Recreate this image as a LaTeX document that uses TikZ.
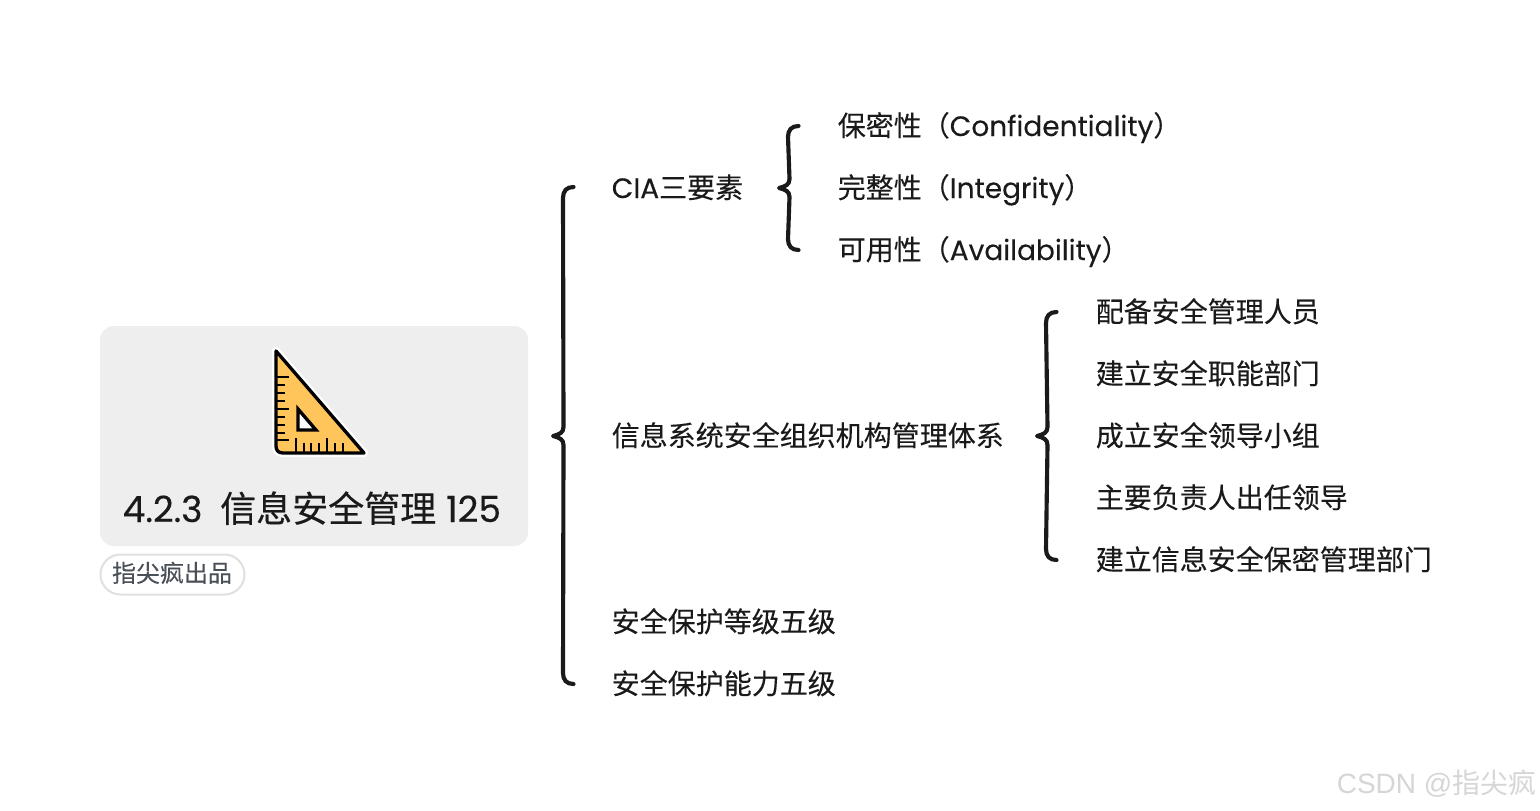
\documentclass[tikz,border=0pt]{standalone}
\usepackage{fontspec}
\setmainfont[FakeBold=0.12]{Poppins}
\newfontfamily\cjk[FakeBold=0.12]{Noto Sans CJK SC}
\newfontfamily\titlelat[FakeBold=0.35]{Poppins}
\newfontfamily\titlecjk[FakeBold=0.35]{Noto Sans CJK SC}
\newfontfamily\wmfont{Liberation Sans}
\newfontfamily\wmcjk{Noto Sans CJK SC}
\newcommand{\zh}[1]{{\cjk #1}}
\definecolor{ink}{HTML}{1A1A1A}
\definecolor{cardfill}{HTML}{EEEEEE}
\definecolor{tagline}{HTML}{E0E0E0}
\definecolor{tagtext}{HTML}{4A5058}
\definecolor{rulerfill}{HTML}{FFC45A}
\definecolor{wm}{HTML}{D6D6D6}
\tikzset{
  label/.style={anchor=base west,inner sep=0pt,text=ink,font=\fontsize{21}{25}\selectfont},
  bracket/.style={draw=ink,line width=3.1pt,line cap=round,line join=round},
  tick/.style={draw=black,line width=2pt},
}
\newcommand{\bracketpath}[3]{%
  \draw[bracket] (#1) .. controls +(-7,0) and +(0,-7) .. ([shift={(-10.5,11)}]#1)
    -- ([shift={(10.5,-9)}]#2) .. controls +(0,6) and +(6,-1.5) .. (#2)
    .. controls +(6,1.5) and +(0,-6) .. ([shift={(10.5,9)}]#2)
    -- ([shift={(-10.5,-11)}]#3) .. controls +(0,7) and +(-7,0) .. (#3);}
\begin{document}
\begin{tikzpicture}[x=0.75pt,y=-0.75pt]
\useasboundingbox (0,0) rectangle (1540,810);
\fill[white] (0,0) rectangle (1540,810);
% central card
\node[draw=none,fill=cardfill,rounded corners=10.5pt,minimum width=321pt,minimum height=165pt,inner sep=0pt] (card) at (314,436) {};
\node[anchor=base west,inner sep=0pt,text=ink,font=\fontsize{27}{32}\selectfont] (title) at (122.5,522) {\titlelat 4.2.3\hspace{13.3pt}{\titlecjk 信息安全管理}\hspace{7.5pt}125};
\node[draw=tagline,line width=1.5pt,fill=white,rounded corners=15pt,minimum width=108pt,minimum height=30pt,inner sep=0pt] (tag) at (172.5,574.5) {};
\node[anchor=base,inner sep=0pt,text=tagtext,font=\fontsize{18}{22}\selectfont] (tagt) at (172,582) {\zh{指尖疯出品}};
% ruler icon
\draw[white,line width=6pt,line join=round] (276,351) -- (364,453) -- (283,453) .. controls (278,453) and (276,450) .. (276,446) -- cycle;
\draw[black,fill=rulerfill,line width=2.5pt,line join=round] (276,351) -- (364,453) -- (283,453) .. controls (278,453) and (276,450) .. (276,446) -- cycle;
\draw[black,fill=white,line width=2.5pt,line join=miter] (298,409) -- (316,430) -- (298,430) -- cycle;
\foreach \y in {377,409,440} \draw[tick] (276,\y) -- (289,\y);
\foreach \y in {385,393,401,417,425,433} \draw[tick] (276,\y) -- (285,\y);
\foreach \x in {296,327} \draw[tick] (\x,453) -- (\x,438);
\foreach \x in {304,311,319,335,343} \draw[tick] (\x,453) -- (\x,443);
% labels
\node[label] (cia) at (611.5,198) {CIA\zh{三要素}};
\node[label] (org) at (611.5,446) {\zh{信息系统安全组织机构管理体系}};
\node[label] (lvl) at (611.5,632) {\zh{安全保护等级五级}};
\node[label] (cap) at (611.5,694) {\zh{安全保护能力五级}};
\node[label] (c1) at (837.5,136) {\zh{保密性（}Confidentiality\zh{）}};
\node[label] (c2) at (837.5,198) {\zh{完整性（}Integrity\zh{）}};
\node[label] (c3) at (837.5,260) {\zh{可用性（}Availability\zh{）}};
\node[label] (o1) at (1095.5,322) {\zh{配备安全管理人员}};
\node[label] (o2) at (1095.5,384) {\zh{建立安全职能部门}};
\node[label] (o3) at (1095.5,446) {\zh{成立安全领导小组}};
\node[label] (o4) at (1095.5,508) {\zh{主要负责人出任领导}};
\node[label] (o5) at (1095.5,570) {\zh{建立信息安全保密管理部门}};
% brackets
\coordinate (b1t) at (573.5,187); \coordinate (b1m) at (553,436); \coordinate (b1b) at (573.5,684);
\coordinate (b2t) at (798.5,126); \coordinate (b2m) at (779,188); \coordinate (b2b) at (798.5,250);
\coordinate (b3t) at (1056.5,312); \coordinate (b3m) at (1037,436); \coordinate (b3b) at (1056.5,560);
\bracketpath{b1t}{b1m}{b1b}
\bracketpath{b2t}{b2m}{b2b}
\bracketpath{b3t}{b3m}{b3b}
% watermark
\begin{scope}
\clip (0,0) rectangle (1540,810);
\node[anchor=base west,inner sep=0pt,text=wm,font=\fontsize{21}{25}\selectfont] (wmark) at (1336.5,793) {\wmfont CSDN @{\wmcjk 指尖疯}};
\end{scope}
\end{tikzpicture}
\end{document}
